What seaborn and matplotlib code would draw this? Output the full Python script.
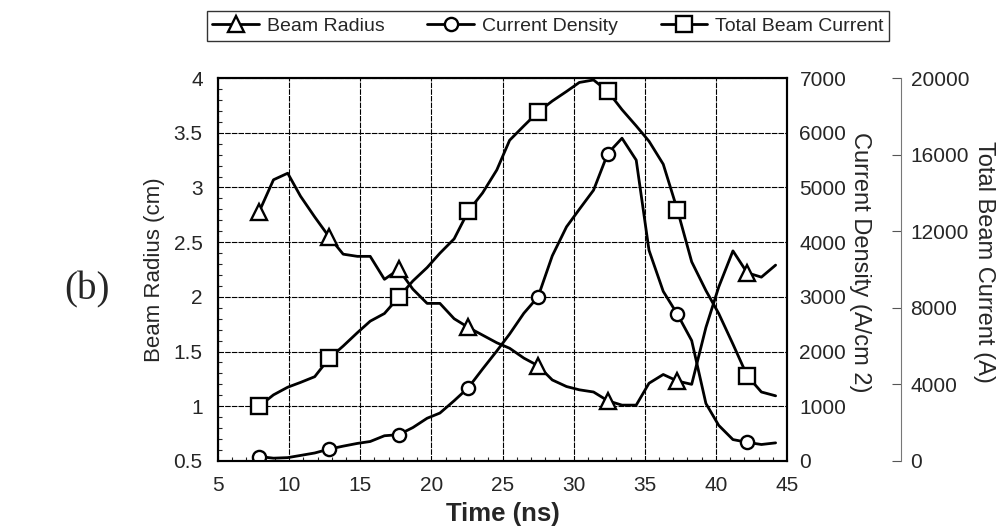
import matplotlib
matplotlib.use('Agg')
import matplotlib.pyplot as plt
import seaborn as sns
from matplotlib.ticker import MultipleLocator

# 데이터
time_ns = [7.9, 8.9, 9.9, 10.8, 11.8, 12.8, 13.8, 14.8, 15.7, 16.7,
           17.7, 18.7, 19.7, 20.6, 21.6, 22.6, 23.6, 24.6, 25.5, 26.5,
           27.5, 28.5, 29.5, 30.4, 31.4, 32.4, 33.4, 34.4, 35.3, 36.3,
           37.3, 38.3, 39.3, 40.2, 41.2, 42.2, 43.2, 44.2]
beam_radius = [2.78, 3.07, 3.13, 2.92, 2.73, 2.55, 2.39, 2.37, 2.37, 2.16,
               2.25, 2.07, 1.94, 1.94, 1.80, 1.72, 1.65, 1.58, 1.53, 1.44,
               1.37, 1.24, 1.18, 1.15, 1.13, 1.05, 1.01, 1.01, 1.21, 1.29,
               1.23, 1.20, 1.72, 2.09, 2.42, 2.22, 2.18, 2.29]
current_density = [80, 50, 60, 100, 145, 215, 270, 320, 355, 460,
                   480, 610, 780, 875, 1100, 1340, 1680, 2010, 2320, 2700,
                   3000, 3750, 4280, 4600, 4950, 5620, 5900, 5500, 3850, 3100,
                   2680, 2200, 1050, 650, 390, 340, 300, 330]
total_current = [2860, 3450, 3850, 4100, 4400, 5350, 6000, 6700, 7300, 7700,
                 8550, 9400, 10100, 10850, 11600, 13050, 14000, 15200, 16750, 17500,
                 18230, 18800, 19300, 19770, 19900, 19310, 18350, 17500, 16700, 15500,
                 13100, 10400, 8900, 7700, 6100, 4450, 3600, 3400]
marker_idx = [0, 5, 10, 15, 20, 25, 30, 35]

radius_ticks = [0.5, 1, 1.5, 2, 2.5, 3, 3.5, 4]
radius_labels = ['0.5', '1', '1.5', '2', '2.5', '3', '3.5', '4']
density_ticks = [0, 1000, 2000, 3000, 4000, 5000, 6000, 7000]
current_ticks = [0, 4000, 8000, 12000, 16000, 20000]
time_ticks = [5, 10, 15, 20, 25, 30, 35, 40, 45]

sns.set_style("ticks")
plt.rcParams['font.family'] = ['Liberation Sans', 'DejaVu Sans']

fig, ax = plt.subplots(figsize=(10, 5.31), dpi=100)
fig.subplots_adjust(left=0.218, right=0.787, top=0.853, bottom=0.132)
ax2 = ax.twinx()
ax3 = ax.twinx()
ax3.spines['right'].set_position(('axes', 1.2))

line_kw = dict(color='black', linewidth=2.0, markerfacecolor='white',
               markeredgecolor='black', markeredgewidth=1.7,
               markevery=marker_idx, legend=False)

sns.lineplot(x=time_ns, y=beam_radius, ax=ax, marker='^', markersize=12,
             label='Beam Radius', **line_kw)
sns.lineplot(x=time_ns, y=current_density, ax=ax2, marker='o', markersize=9.5,
             label='Current Density', **line_kw)
sns.lineplot(x=time_ns, y=total_current, ax=ax3, marker='s', markersize=11,
             label='Total Beam Current', **line_kw)

# 축 범위 / 눈금
ax.set_xlim(5, 45)
ax.set_ylim(0.5, 4)
ax2.set_ylim(0, 7000)
ax3.set_ylim(0, 20000)

ax.set_xticks(time_ticks)
ax.set_yticks(radius_ticks)
ax.set_yticklabels(radius_labels)
ax.xaxis.set_minor_locator(MultipleLocator(1))
ax.yaxis.set_minor_locator(MultipleLocator(0.1))
ax.tick_params(axis='both', which='major', length=0, labelsize=15, pad=11)
ax.tick_params(axis='both', which='minor', direction='in', length=3, width=0.8)
ax.grid(True, which='major', color='black', linestyle=(0, (5, 1)), linewidth=0.8)

ax2.set_yticks(density_ticks)
ax2.tick_params(axis='y', length=0, labelsize=15, pad=9)

ax3.set_yticks(current_ticks)
ax3.tick_params(axis='y', direction='in', length=6.5, width=0.8, color='#555555',
                labelsize=15, pad=7)

for a in (ax, ax2):
    for s in a.spines.values():
        s.set_color('black')
        s.set_linewidth(1.5)
for name in ('top', 'bottom', 'left'):
    ax3.spines[name].set_visible(False)
ax3.spines['right'].set_color('#777777')
ax3.spines['right'].set_linewidth(0.8)
ax3.spines['right'].set_linestyle((0, (3, 1)))

# 축 제목
ax.set_xlabel('Time (ns)', fontsize=18.5, fontweight='bold')
ax.xaxis.set_label_coords(0.5, -0.107)
ax.set_ylabel('Beam Radius (cm)', fontsize=16)
ax.yaxis.set_label_coords(-0.093, 0.5)
ax2.set_ylabel('Current Density (A/cm 2)', fontsize=17, rotation=270, va='center')
ax2.yaxis.set_label_coords(1.128, 0.52)
ax3.set_ylabel('Total Beam Current (A)', fontsize=17, rotation=270, va='center')
ax3.yaxis.set_label_coords(1.346, 0.52)

# 범례
handles, labels = [], []
for a in (ax, ax2, ax3):
    h, l = a.get_legend_handles_labels()
    handles += h
    labels += l
leg = fig.legend(handles, labels, loc='center', bbox_to_anchor=(0.548, 0.951),
                 ncol=3, fontsize=14, frameon=True, fancybox=False,
                 edgecolor='black', handlelength=2.4, columnspacing=2.2,
                 handletextpad=0.4, borderpad=0.3)
leg.get_frame().set_linewidth(1.0)

fig.text(0.087, 0.454, '(b)', fontsize=28, family=['Liberation Serif', 'DejaVu Serif'],
         ha='center', va='center')

plt.savefig('out.png', dpi=100)
